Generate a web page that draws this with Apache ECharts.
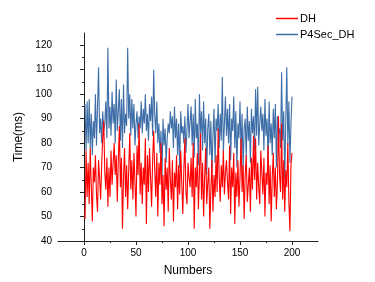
<!DOCTYPE html>
<html><head><meta charset="utf-8">
<script src="https://cdn.jsdelivr.net/npm/echarts@6/dist/echarts.min.js"></script>
<style>html,body{margin:0;padding:0;background:#fff}#c{width:375px;height:282px}</style>
</head><body><div id="c"></div>
<script>
var xTickLabels = [0, 50, 100, 150, 200];
var xMinorTicks = [25, 75, 125, 175];
var yTickLabels = [40, 50, 60, 70, 80, 90, 100, 110, 120];
var yMinorTicks = [45, 55, 65, 75, 85, 95, 105, 115];

var p4secDH = [
 96, 77, 97, 80, 98, 78, 92, 75, 89, 82, 100, 79, 95, 111, 84, 90, 80, 93, 85, 88, 97, 82, 119, 86, 95, 83, 101, 88, 96, 80, 106, 85, 93,
 102, 81, 98, 78, 104, 84, 92, 87, 119, 90, 100, 83, 98, 86, 96, 79, 88, 93, 82, 91, 86, 97, 84, 94, 88, 100, 85, 92, 81, 96, 89, 99, 83, 110,
 92, 84, 97, 80, 88, 76, 85, 66, 90, 79, 86, 72, 82, 88, 84, 93, 86, 91, 78, 95, 82, 90, 75, 88, 70, 93, 84, 87, 80, 91, 76, 85, 96, 82, 89,
 95, 79, 92, 74, 98, 82, 88, 71, 100, 84, 93, 77, 97, 80, 90, 67, 86, 92, 75, 89, 68, 83, 94, 72, 90, 85, 96, 78, 92, 81, 107, 76, 88, 99, 83,
 94, 80, 96, 73, 90, 85, 99, 78, 93, 70, 88, 82, 97, 76, 92, 69, 86, 90, 74, 95, 81, 89, 72, 94, 84, 91, 77, 102, 83, 103, 79, 88, 95, 85,
 92, 77, 98, 83, 90, 72, 97, 80, 88, 75, 94, 82, 96, 70, 91, 84, 86, 78, 109, 81, 93, 65, 88, 111, 79, 97, 72, 88, 99
];
var dh = [
 49, 77, 58, 72, 55, 78, 62, 48, 70, 64, 75, 59, 52, 73, 66, 57, 71, 82, 89, 68, 61, 74, 54, 70, 58, 77, 63, 72, 80, 67, 75, 56, 73,
 87, 62, 74, 45, 66, 78, 58, 71, 53, 69, 84, 61, 73, 57, 76, 64, 50, 79, 67, 88, 59, 72, 55, 70, 63, 82, 47, 75, 60, 78, 66, 54, 73, 85,
 69, 58, 76, 50, 72, 63, 80, 55, 67, 46, 74, 61, 70, 52, 78, 65, 57, 73, 48, 68, 62, 75, 53, 71, 59, 77, 64, 51, 69, 82, 60, 55, 72, 66, 62,
 74, 58, 80, 45, 70, 62, 76, 53, 68, 84, 57, 72, 50, 66, 78, 55, 64, 70, 45, 61, 73, 52, 67, 58, 75, 60, 86, 66, 56, 71, 62, 77, 59, 68, 73,
 64, 57, 79, 51, 70, 62, 76, 47, 68, 58, 73, 54, 66, 82, 60, 71, 49, 67, 75, 56, 63, 70, 52, 74, 61, 83, 65, 82, 57, 72, 62, 55, 77, 68,
 59, 74, 50, 68, 63, 79, 55, 71, 48, 66, 76, 58, 70, 53, 64, 91, 67, 60, 88, 57, 73, 52, 69, 62, 80, 56, 44, 71, 76
];

function pairs(arr) { return arr.map(function (v, i) { return [i + 1, v]; }); }

var chart = echarts.init(document.getElementById('c'), null, {renderer: 'canvas'});
var font = 'Liberation Sans, Arial, sans-serif';
chart.setOption({
  animation: false,
  backgroundColor: '#fff',
  grid: {left: 58, right: 57, top: 33, bottom: 40},
  legend: {
    orient: 'vertical', left: 271, top: 8, itemGap: 5,
    itemWidth: 22, itemHeight: 1.5, icon: 'rect',
    data: ['DH', 'P4Sec_DH'],
    textStyle: {fontFamily: font, fontSize: 11, color: '#000', padding: [0, 0, 0, -3]}
  },
  xAxis: [{
    type: 'value', min: -25, max: 225,
    name: 'Numbers', nameLocation: 'middle', nameGap: 24,
    nameTextStyle: {fontFamily: font, fontSize: 12, color: '#000'},
    axisLine: {lineStyle: {color: '#222', width: 1}},
    axisTick: {customValues: xTickLabels, length: 4, lineStyle: {color: '#222'}},
    axisLabel: {customValues: xTickLabels, fontFamily: font, fontSize: 10, color: '#000', margin: 7},
    splitLine: {show: false}
  }, {
    type: 'value', min: -25, max: 225, position: 'bottom',
    axisLine: {show: false},
    axisTick: {customValues: xMinorTicks, length: 2, lineStyle: {color: '#222'}},
    axisLabel: {show: false},
    splitLine: {show: false}
  }],
  yAxis: [{
    type: 'value', min: 40, max: 125,
    name: 'Time(ms)', nameLocation: 'middle', nameGap: 29,
    nameTextStyle: {fontFamily: font, fontSize: 12, color: '#000'},
    axisLine: {show: true, lineStyle: {color: '#222', width: 1}},
    axisTick: {show: true, customValues: yTickLabels, length: 4, lineStyle: {color: '#222'}},
    axisLabel: {customValues: yTickLabels, fontFamily: font, fontSize: 10, color: '#000', margin: 6},
    splitLine: {show: false}
  }, {
    type: 'value', min: 40, max: 125, position: 'left',
    axisLine: {show: false},
    axisTick: {show: true, customValues: yMinorTicks, length: 2, lineStyle: {color: '#222'}},
    axisLabel: {show: false},
    splitLine: {show: false}
  }],
  series: [{
    name: 'P4Sec_DH', type: 'line', data: pairs(p4secDH),
    showSymbol: false, symbol: 'none',
    lineStyle: {color: '#3d6ea8', width: 1.1},
    itemStyle: {color: '#3d6ea8'}
  }, {
    name: 'DH', type: 'line', data: pairs(dh),
    showSymbol: false, symbol: 'none',
    lineStyle: {color: '#ff0000', width: 1.1},
    itemStyle: {color: '#ff0000'}
  }]
});
</script></body></html>
